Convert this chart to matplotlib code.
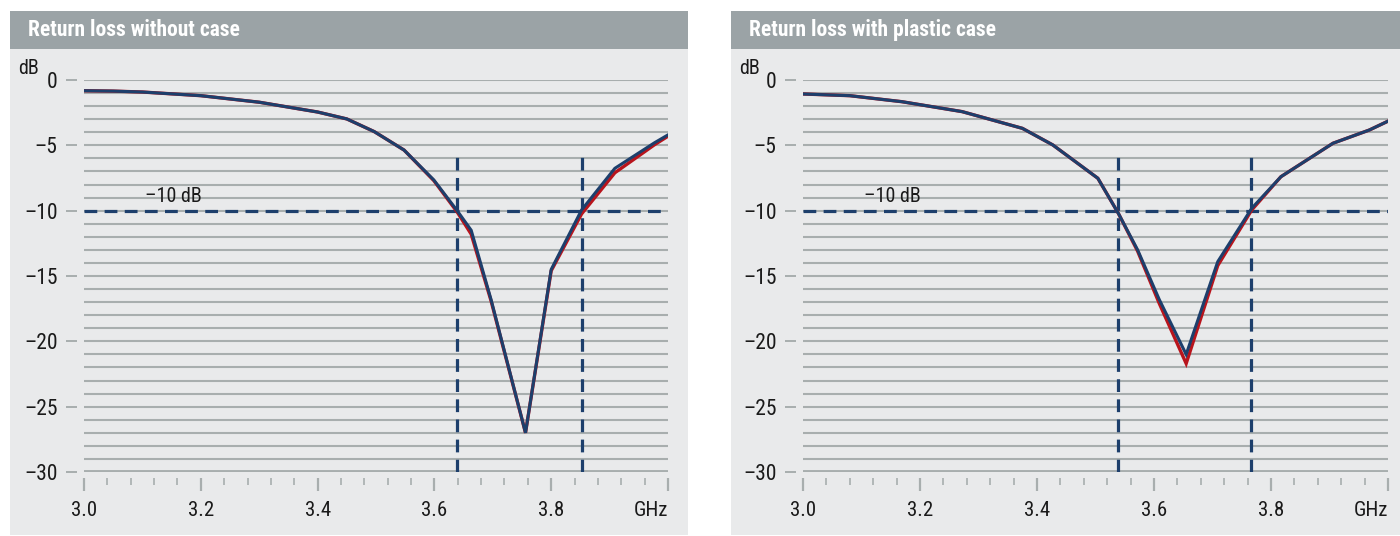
import matplotlib
matplotlib.use("Agg")
import matplotlib.pyplot as plt
from matplotlib.patches import Rectangle
from matplotlib.ticker import FixedLocator, FixedFormatter
import numpy as np

# ---- data ----
titles = ["Return loss without case", "Return loss with plastic case"]

ghz_without = [3.0, 3.05, 3.1, 3.2, 3.3, 3.4, 3.45, 3.497, 3.548, 3.599, 3.639,
               3.663, 3.697, 3.756, 3.80, 3.852, 3.909, 3.977, 4.0]
db_without_blue = [-0.82, -0.85, -0.92, -1.2, -1.7, -2.45, -2.98, -3.95, -5.36, -7.65, -10.0,
                   -11.5, -16.8, -27.0, -14.5, -9.95, -6.76, -4.8, -4.2]
db_without_red = [-0.82, -0.85, -0.92, -1.2, -1.7, -2.45, -2.98, -3.95, -5.36, -7.7, -10.1,
                  -11.8, -16.9, -27.0, -14.6, -10.25, -7.1, -4.95, -4.3]

ghz_plastic = [3.0, 3.08, 3.169, 3.272, 3.375, 3.427, 3.504, 3.539, 3.572, 3.609,
               3.655, 3.709, 3.767, 3.817, 3.906, 3.968, 4.0]
db_plastic_blue = [-1.07, -1.2, -1.66, -2.42, -3.7, -4.97, -7.52, -10.2, -13.0, -16.8,
                   -21.0, -13.9, -9.82, -7.4, -4.84, -3.83, -3.15]
db_plastic_red = [-1.07, -1.2, -1.66, -2.42, -3.7, -4.97, -7.52, -10.2, -13.1, -17.1,
                  -21.7, -14.2, -9.95, -7.4, -4.84, -3.83, -3.15]

markers_without = [3.639, 3.852]
markers_plastic = [3.538, 3.766]

threshold_db = -10
y_ticks = [0, -5, -10, -15, -20, -25, -30]
y_tick_labels = ["0", "\u20135", "\u201310", "\u201315", "\u201320", "\u201325", "\u201330"]
x_major = [3.0, 3.2, 3.4, 3.6, 3.8, 4.0]
x_major_labels = ["3.0", "3.2", "3.4", "3.6", "3.8", ""]

# ---- style ----
W, H = 1400, 536
BLUE = "#1d3f6c"
RED = "#b8141c"
GRID = "#a8aeae"
PANEL = "#e9eaeb"
BAR = "#9ba3a6"
TEXT = "#1a1a1a"
FONT = ["Roboto Condensed", "Liberation Sans Narrow", "Roboto", "DejaVu Sans"]
plt.rcParams["font.family"] = FONT

fig = plt.figure(figsize=(W / 100, H / 100), dpi=100)


def px_rect(x0, y0, x1, y1, color):
    fig.add_artist(Rectangle((x0 / W, 1 - y1 / H), (x1 - x0) / W, (y1 - y0) / H,
                             transform=fig.transFigure, facecolor=color,
                             edgecolor="none", zorder=0))


panels = [(10, 688, 84, 668), (731, 1400, 803, 1388)]
series = [
    (ghz_without, db_without_blue, db_without_red, markers_without),
    (ghz_plastic, db_plastic_blue, db_plastic_red, markers_plastic),
]

for (p0, p1, a0, a1), title, (xs, yb, yr, marks) in zip(panels, titles, series):
    px_rect(p0, 11, p1, 535, PANEL)
    px_rect(p0, 11, p1, 49, BAR)
    fig.text((p0 + 18) / W, 1 - 30 / H, title, color="white", fontsize=15.5,
             fontweight="bold", ha="left", va="center")
    fig.text((p0 + 8) / W, 1 - 59 / H, "dB", color=TEXT, fontsize=14.5,
             ha="left", va="top")

    ax = fig.add_axes([a0 / W, 1 - 472 / H, (a1 - a0) / W, 392 / H])
    ax.patch.set_visible(False)
    ax.set_xlim(3.0, 4.0)
    ax.set_ylim(-30, 0)

    # horizontal grid every 1 dB
    for g in range(-29, 1):
        ax.axhline(g, color=GRID, lw=1.5, zorder=1)
    ax.axhline(-30, color=GRID, lw=2.8, zorder=1)

    # -10 dB threshold and band edges
    ax.axhline(threshold_db, color=BLUE, lw=2.3, ls=(0, (4, 2.3)), zorder=3)
    for m in marks:
        ax.plot([m, m], [-30, -5.9], color=BLUE, lw=2.3, ls=(0, (4, 2.3)), zorder=3)
    ax.text(3.104, -9.3, "\u201310 dB", color=TEXT, fontsize=14.5,
            ha="left", va="baseline")

    ax.plot(xs, yr, color=RED, lw=2.4, zorder=4, solid_joinstyle="miter")
    ax.plot(xs, yb, color=BLUE, lw=2.2, zorder=5, solid_joinstyle="miter")

    for s in ["top", "right"]:
        ax.spines[s].set_visible(False)
    ax.spines["left"].set_position(("outward", 5))
    ax.spines["left"].set_visible(False)
    ax.spines["bottom"].set_position(("outward", 4))
    ax.spines["bottom"].set_visible(False)

    ax.yaxis.set_major_locator(FixedLocator(y_ticks))
    ax.yaxis.set_major_formatter(FixedFormatter(y_tick_labels))
    ax.tick_params(axis="y", length=8, width=1.4, color=GRID, pad=6,
                   labelsize=15.5, labelcolor=TEXT)

    ax.xaxis.set_major_locator(FixedLocator(x_major))
    ax.xaxis.set_major_formatter(FixedFormatter(x_major_labels))
    ax.xaxis.set_minor_locator(FixedLocator(np.arange(3.0, 4.001, 0.04)))
    ax.tick_params(axis="x", which="major", length=9, width=1.6, color=GRID,
                   pad=8, labelsize=15, labelcolor=TEXT)
    ax.tick_params(axis="x", which="minor", length=5, width=1.2, color=GRID)
    ax.text(1.0, -0.075, "GHz", transform=ax.transAxes, color=TEXT,
            fontsize=15, ha="right", va="top")

fig.savefig("out.png", dpi=100, facecolor="white")
